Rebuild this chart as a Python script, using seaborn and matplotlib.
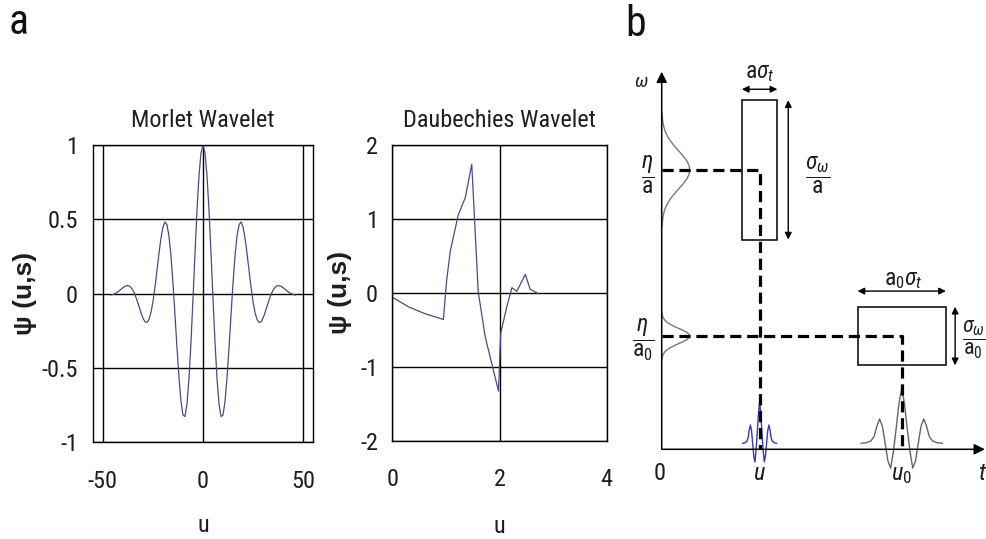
import numpy as np
import pandas as pd
import matplotlib
matplotlib.use("Agg")
import matplotlib.pyplot as plt
import seaborn as sns
from matplotlib import font_manager
from matplotlib.patches import Rectangle

# ---------------- data ----------------
morlet_u = [-46, -45, -44, -43, -42, -41, -40, -39, -38, -37, -36, -35, -34, -33, -32, -31,
            -30, -29, -28, -27, -26, -25, -24, -23, -22, -21, -20, -19, -18, -17, -16, -15,
            -14, -13, -12, -11, -10, -9, -8, -7, -6, -5, -4, -3, -2, -1, 0,
            1, 2, 3, 4, 5, 6, 7, 8, 9, 10, 11, 12, 13, 14, 15, 16, 17, 18, 19, 20, 21, 22,
            23, 24, 25, 26, 27, 28, 29, 30, 31, 32, 33, 34, 35, 36, 37, 38, 39, 40, 41, 42,
            43, 44, 45, 46]
morlet_psi = [-0.009, -0.006, -0.001, 0.007, 0.017, 0.028, 0.039, 0.049, 0.054, 0.053, 0.043,
              0.025, -0.004, -0.041, -0.082, -0.125, -0.163, -0.188, -0.194, -0.176, -0.130,
              -0.058, 0.038, 0.150, 0.265, 0.369, 0.446, 0.482, 0.465, 0.390, 0.258, 0.077,
              -0.136, -0.357, -0.559, -0.723, -0.817, -0.827, -0.745, -0.574, -0.330, -0.038,
              0.269, 0.559, 0.793, 0.947, 1.000,
              0.947, 0.793, 0.559, 0.269, -0.038, -0.330, -0.574, -0.745, -0.827, -0.817,
              -0.723, -0.559, -0.357, -0.136, 0.077, 0.258, 0.390, 0.465, 0.482, 0.446, 0.369,
              0.265, 0.150, 0.038, -0.058, -0.130, -0.176, -0.194, -0.188, -0.163, -0.125,
              -0.082, -0.041, -0.004, 0.025, 0.043, 0.053, 0.054, 0.049, 0.039, 0.028, 0.017,
              0.007, -0.001, -0.006, -0.009]
morlet_xticks = [-50, 0, 50]
morlet_yticks = [-1, -0.5, 0, 0.5, 1]

daub_u = [0.00, 0.30, 0.60, 0.95, 1.01, 1.08, 1.23, 1.36, 1.48, 1.60, 1.73, 1.98,
          2.02, 2.13, 2.23, 2.32, 2.48, 2.57, 2.72]
daub_psi = [-0.06, -0.19, -0.28, -0.36, 0.16, 0.57, 1.06, 1.29, 1.74, 0.02, -0.59, -1.33,
            -0.55, -0.20, 0.07, 0.02, 0.25, 0.05, -0.01]
daub_xticks = [0, 2, 4]
daub_yticks = [-2, -1, 0, 1, 2]

# schematic (panel b): time-frequency boxes
box_t = [3.06, 7.50]          # u, u0
box_w = [7.40, 3.00]          # eta/a, eta/a0
box_width = [1.11, 2.76]      # a*sigma_t, a0*sigma_t
box_height = [3.69, 1.55]     # sigma_w/a, sigma_w/a0
t_end, w_end = 10.1, 10.0

# gaussian spectrum profile (offsets in sigma units, normalised height)
gauss_off = [-3.0, -2.75, -2.5, -2.25, -2.0, -1.75, -1.5, -1.25, -1.0, -0.75, -0.5, -0.25, 0.0,
             0.25, 0.5, 0.75, 1.0, 1.25, 1.5, 1.75, 2.0, 2.25, 2.5, 2.75, 3.0]
gauss_val = [0.011, 0.023, 0.044, 0.080, 0.135, 0.216, 0.325, 0.458, 0.607, 0.755, 0.883, 0.969,
             1.000, 0.969, 0.883, 0.755, 0.607, 0.458, 0.325, 0.216, 0.135, 0.080, 0.044,
             0.023, 0.011]
gauss_sigma = [0.50, 0.20]
gauss_peak = 0.88

# schematic wavelet (offsets in periods, normalised amplitude)
wave_x = [-1.85, -1.6, -1.4, -1.25, -1.125, -1.0, -0.875, -0.75, -0.625, -0.5, -0.375, -0.25,
          -0.125, 0.0, 0.125, 0.25, 0.375, 0.5, 0.625, 0.75, 0.875, 1.0, 1.125, 1.25, 1.4,
          1.6, 1.85]
wave_y = [0.0, 0.01, 0.04, 0.12, 0.31, 0.44, 0.31, 0.0, -0.32, -0.45, -0.15, 0.27, 0.72, 1.0,
          0.72, 0.27, -0.15, -0.45, -0.32, 0.0, 0.31, 0.44, 0.31, 0.12, 0.04, 0.01, 0.0]
wave_period = [0.29, 0.69]
wave_amp = [1.10, 1.46]
wave_base = 0.16

# ---------------- style ----------------
sns.set_theme(style="white")


def pick_font():
    names = {f.name for f in font_manager.fontManager.ttflist}
    for cand in ["Liberation Sans Narrow", "Arial Narrow", "Roboto Condensed",
                 "Noto Sans Condensed", "Open Sans Condensed", "DejaVu Sans Condensed"]:
        if cand in names:
            return cand, True
    cond = sorted([n for n in names if ("Narrow" in n or "Condensed" in n)
                   and not any(w in n for w in ("Black", "Thin", "Light", "Extra", "Semi",
                                                "Medium", "Bold", "Mono", "Serif"))],
                  key=len)
    if cond:
        return cond[0], True
    return "Liberation Sans", False


FONT, IS_NARROW = pick_font()
plt.rcParams["font.family"] = [FONT, "Liberation Sans", "DejaVu Sans"]
plt.rcParams["axes.unicode_minus"] = False
plt.rcParams["mathtext.fontset"] = "custom"
plt.rcParams["mathtext.rm"] = FONT
plt.rcParams["mathtext.it"] = FONT + ":italic"
plt.rcParams["mathtext.bf"] = FONT + ":bold"
plt.rcParams["mathtext.sf"] = FONT

FS = 17.5 if IS_NARROW else 15.5
W, H = 987, 539
fig = plt.figure(figsize=(W / 100, H / 100), dpi=100)
fig.patch.set_facecolor("white")


def rect(l, t, r, b):
    return [l / W, 1 - b / H, (r - l) / W, (b - t) / H]


ax1 = fig.add_axes(rect(92.7, 145, 313.3, 442.3))
ax2 = fig.add_axes(rect(392.5, 145, 606.7, 440.7))
axb = fig.add_axes([610 / W, 0, 377 / W, 1])

curve_color = "#4a4a8a"
sns.lineplot(x=morlet_u, y=morlet_psi, ax=ax1, color=curve_color, lw=0.9,
             sort=False, estimator=None)
sns.lineplot(x=daub_u, y=daub_psi, ax=ax2, color=curve_color, lw=0.9,
             sort=False, estimator=None)

txt_col = "#1e1e1e"
setup = [
    (ax1, "Morlet Wavelet", (-55, 55), (-1, 1), morlet_xticks, morlet_yticks, -0.307, -0.2815),
    (ax2, "Daubechies Wavelet", (0, 4), (-2, 2), daub_xticks, daub_yticks, -0.245, -0.2885),
]
for ax, title, xl, yl, xt, yt, ylx, xly in setup:
    ax.set_xlim(*xl)
    ax.set_ylim(*yl)
    ax.set_xticks(xt)
    ax.set_yticks(yt)
    ax.set_xticklabels([f"{v:g}" for v in xt])
    ax.set_yticklabels([f"{v:g}" for v in yt])
    ax.tick_params(axis="both", length=0, labelsize=FS, colors=txt_col)
    ax.tick_params(axis="x", pad=20)
    ax.tick_params(axis="y", pad=10.5)
    ax.grid(True, color="black", lw=1.0)
    ax.set_axisbelow(True)
    for s in ax.spines.values():
        s.set_visible(True)
        s.set_color("black")
        s.set_linewidth(1.0)
    ax.set_title(title, fontsize=FS, pad=13, color=txt_col)
    ax.set_xlabel("u", fontsize=FS, va="center", color=txt_col)
    ax.xaxis.set_label_coords(0.5, xly)
    ax.set_ylabel("ψ (u,s)", fontsize=19, fontweight="bold", va="center",
                  family=["Liberation Sans", "DejaVu Sans"], color=txt_col)
    ax.yaxis.set_label_coords(ylx, 0.5)

fig.text(19 / W, 1 - 23 / H, "a", fontsize=30, ha="center", va="center", color="#111111")
fig.text(636 / W, 1 - 25 / H, "b", fontsize=30, ha="center", va="center", color="#111111")

# ---------------- panel b: schematic ----------------
axb.set_xlim((610 - 661.7) / 32.0, (987 - 661.7) / 32.0)
axb.set_ylim((449.3 - 539) / 37.76, 449.3 / 37.76)
axb.axis("off")

axis_kw = dict(arrowstyle="-|>", color="black", lw=1.1, mutation_scale=16,
               shrinkA=0, shrinkB=0)
axb.annotate("", xy=(0, w_end), xytext=(0, 0), arrowprops=axis_kw)
axb.annotate("", xy=(t_end, 0), xytext=(0, 0), arrowprops=axis_kw)

g_colors = ["#7474a8", "#777777"]
for wc, sg, col in zip(box_w, gauss_sigma, g_colors):
    sns.lineplot(x=np.array(gauss_val) * gauss_peak, y=wc + np.array(gauss_off) * sg,
                 ax=axb, color=col, lw=1.0, sort=False, estimator=None)

w_colors = ["#3a3aa8", "#666666"]
for tc, per, amp, col in zip(box_t, wave_period, wave_amp, w_colors):
    sns.lineplot(x=tc + np.array(wave_x) * per, y=wave_base + np.array(wave_y) * amp,
                 ax=axb, color=col, lw=1.0, sort=False, estimator=None)

for tc, wc, bw, bh in zip(box_t, box_w, box_width, box_height):
    axb.add_patch(Rectangle((tc - bw / 2, wc - bh / 2), bw, bh, fill=False,
                            ec="black", lw=1.1, zorder=3))
    axb.plot([0, tc, tc], [wc, wc, 0], color="black", lw=2.3, ls=(0, (3.5, 1.8)),
             zorder=4)

dbl = dict(arrowstyle="<|-|>", color="black", lw=1.0, mutation_scale=10,
           shrinkA=0, shrinkB=0)
gaps_top = [0.29, 0.415]
gaps_side = [0.34, 0.29]
for tc, wc, bw, bh, gt, gs in zip(box_t, box_w, box_width, box_height, gaps_top, gaps_side):
    top = wc + bh / 2
    axb.annotate("", xy=(tc + bw / 2, top + gt), xytext=(tc - bw / 2, top + gt),
                 arrowprops=dbl)
    axb.annotate("", xy=(tc + bw / 2 + gs, wc - bh / 2), xytext=(tc + bw / 2 + gs, top),
                 arrowprops=dbl)

MFS = 17 if IS_NARROW else 15.5
axb.text(-0.63, 9.73, r"$\omega$", fontsize=14, ha="center", va="center", color=txt_col)
axb.text(box_t[0], 9.97, r"$\mathrm{a}\sigma_t$", fontsize=MFS, ha="center", va="center",
         color=txt_col)
axb.text(box_t[1] + 0.04, 4.51, r"$\mathrm{a}_0\sigma_t$", fontsize=MFS, ha="center",
         va="center", color=txt_col)
axb.text(4.88, box_w[0] - 0.13, r"$\dfrac{\sigma_\omega}{\mathrm{a}}$", fontsize=MFS,
         ha="center", va="center", color=txt_col)
axb.text(10.13, box_w[1] - 0.1, r"$\dfrac{\sigma_\omega}{\mathrm{a}_0}$", fontsize=MFS - 1,
         ha="right", va="center", color=txt_col)
axb.text(-0.43, box_w[0] - 0.13, r"$\dfrac{\eta}{\mathrm{a}}$", fontsize=MFS,
         ha="center", va="center", color=txt_col)
axb.text(-0.58, box_w[1] - 0.1, r"$\dfrac{\eta}{\mathrm{a}_0}$", fontsize=MFS,
         ha="center", va="center", color=txt_col)
axb.text(-0.05, -0.63, "0", fontsize=FS, ha="center", va="center", color=txt_col)
axb.text(box_t[0], -0.63, r"$u$", fontsize=FS, ha="center", va="center", color=txt_col)
axb.text(box_t[1], -0.68, r"$u_0$", fontsize=FS, ha="center", va="center", color=txt_col)
axb.text(t_end - 0.06, -0.63, r"$t$", fontsize=FS, ha="center", va="center", color=txt_col)

fig.savefig("out.png", dpi=100, facecolor="white")
